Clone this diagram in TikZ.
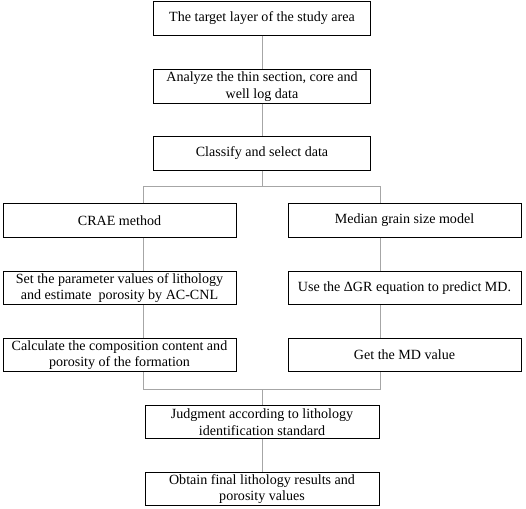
\documentclass[tikz,border=0pt]{standalone}
\usepackage{fontspec}
\setmainfont{Liberation Serif}
\begin{document}
\begin{tikzpicture}[
    box/.style={draw,line width=.8pt,align=center,inner sep=1pt,
      minimum height=1cm,font=\fontsize{12}{14.2}\selectfont},
    link/.style={draw=gray!70,line width=.6pt}]
  \useasboundingbox (0,0) rectangle (15.78,-15.27);
  % main column
  \node[box,minimum width=6.51cm] (target) at (7.86,-.555) {The target layer of the study area};
  \node[box,minimum width=6.51cm] (analyze) at (7.86,-2.595) {Analyze the thin section, core and\\ well log data};
  \node[box,minimum width=6.51cm] (classify) at (7.86,-4.605) {Classify and select data};
  % two branches
  \node[box,minimum width=6.99cm] (crae) at (3.585,-6.615) {CRAE method};
  \node[box,minimum width=6.99cm] (grain) at (12.135,-6.615) {Median grain size model};
  \node[box,minimum width=6.99cm] (param) at (3.585,-8.64) {Set the parameter values of lithology\\ and estimate\ \ porosity by AC-CNL};
  \node[box,minimum width=6.99cm] (dgr) at (12.135,-8.64) {Use the ΔGR equation to predict MD.};
  \node[box,minimum width=6.99cm] (comp) at (3.585,-10.65) {Calculate the composition content and\\ porosity of the formation};
  \node[box,minimum width=6.99cm] (md) at (12.135,-10.65) {Get the MD value};
  % merge
  \node[box,minimum width=7.02cm] (judge) at (7.86,-12.66) {Judgment according to lithology\\ identification standard};
  \node[box,minimum width=7.02cm] (final) at (7.86,-14.67) {Obtain final lithology results and\\ porosity values};
  \coordinate (lft) at (4.29,-5.58);
  \coordinate (rgt) at (11.4,-5.58);
  \coordinate (join) at (7.86,-11.67);
  \draw[link] (target) -- (analyze);
  \draw[link] (analyze) -- (classify);
  \draw[link] (classify) -- (classify |- lft);
  \draw[link] (lft |- crae.north) -- (lft) -- (rgt) -- (rgt |- grain.north);
  \draw[link] (lft |- crae.south) -- (lft |- param.north);
  \draw[link] (lft |- param.south) -- (lft |- comp.north);
  \draw[link] (rgt |- grain.south) -- (rgt |- dgr.north);
  \draw[link] (rgt |- dgr.south) -- (rgt |- md.north);
  \draw[link] (lft |- comp.south) -- (lft |- join) -- (rgt |- join) -- (rgt |- md.south);
  \draw[link] (join) -- (judge);
  \draw[link] (judge) -- (final);
\end{tikzpicture}
\end{document}
